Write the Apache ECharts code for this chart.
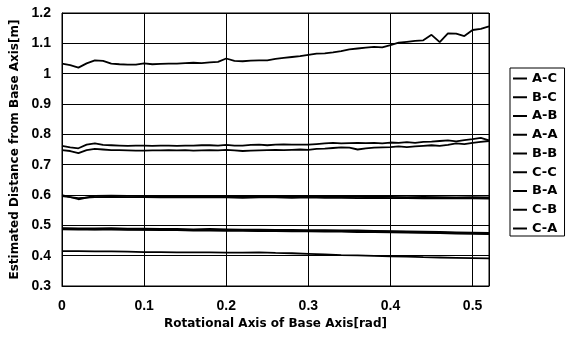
<!DOCTYPE html>
<html>
<head>
<meta charset="utf-8">
<script src="https://cdn.jsdelivr.net/npm/echarts@6/dist/echarts.min.js"></script>
<style>html,body{margin:0;padding:0;background:#fff;}#c{width:571px;height:337px;}</style>
</head>
<body>
<div id="c"></div>
<script>
const names = ['A-C','B-C','A-B','A-A','B-B','C-C','B-A','C-B','C-A'];
const xFine = [0,0.01,0.02,0.03,0.04,0.05,0.06,0.07,0.08,0.09,0.10,0.11,0.12,0.13,0.14,0.15,0.16,0.17,0.18,0.19,0.20,0.21,0.22,0.23,0.24,0.25,0.26,0.27,0.28,0.29,0.30,0.31,0.32,0.33,0.34,0.35,0.36,0.37,0.38,0.39,0.40,0.41,0.42,0.43,0.44,0.45,0.46,0.47,0.48,0.49,0.50,0.51,0.52];
const xCoarse = [0,0.02,0.04,0.06,0.08,0.10,0.12,0.14,0.16,0.18,0.20,0.22,0.24,0.26,0.28,0.30,0.32,0.34,0.36,0.38,0.40,0.42,0.44,0.46,0.48,0.50,0.52];
const sAC = [1.033,1.028,1.020,1.034,1.044,1.042,1.033,1.031,1.030,1.030,1.034,1.031,1.032,1.033,1.033,1.035,1.036,1.035,1.037,1.039,1.050,1.042,1.041,1.043,1.044,1.044,1.049,1.052,1.055,1.058,1.062,1.066,1.067,1.070,1.074,1.080,1.083,1.086,1.088,1.087,1.094,1.102,1.105,1.108,1.110,1.128,1.104,1.133,1.132,1.124,1.144,1.148,1.156];
const sBC = [0.762,0.757,0.754,0.766,0.770,0.765,0.764,0.763,0.762,0.763,0.763,0.762,0.763,0.763,0.762,0.763,0.763,0.764,0.764,0.763,0.765,0.763,0.763,0.765,0.766,0.764,0.766,0.767,0.766,0.766,0.766,0.768,0.770,0.772,0.770,0.771,0.772,0.771,0.772,0.770,0.773,0.772,0.774,0.772,0.775,0.776,0.778,0.780,0.777,0.781,0.784,0.788,0.780];
const sAB = [0.748,0.745,0.738,0.748,0.752,0.750,0.748,0.748,0.747,0.746,0.746,0.747,0.747,0.748,0.747,0.748,0.746,0.747,0.748,0.747,0.749,0.747,0.745,0.746,0.747,0.748,0.749,0.748,0.749,0.750,0.749,0.752,0.753,0.755,0.757,0.756,0.750,0.754,0.756,0.757,0.758,0.760,0.758,0.760,0.762,0.764,0.762,0.765,0.770,0.768,0.772,0.775,0.778];
const sAA = [0.600,0.586,0.597,0.598,0.597,0.596,0.597,0.595,0.596,0.596,0.595,0.595,0.596,0.595,0.596,0.595,0.595,0.594,0.594,0.595,0.594,0.593,0.594,0.593,0.592,0.593,0.592];
const sBB = [0.596,0.590,0.593,0.594,0.593,0.593,0.592,0.592,0.593,0.592,0.592,0.591,0.592,0.592,0.591,0.592,0.591,0.591,0.590,0.591,0.590,0.590,0.589,0.590,0.589,0.589,0.588];
const sCC = [0.491,0.490,0.490,0.491,0.489,0.489,0.488,0.488,0.487,0.488,0.487,0.486,0.486,0.485,0.485,0.484,0.484,0.483,0.483,0.482,0.481,0.480,0.479,0.478,0.477,0.476,0.475];
const sBA = [0.489,0.488,0.487,0.488,0.487,0.486,0.486,0.485,0.485,0.485,0.484,0.484,0.483,0.483,0.482,0.482,0.481,0.481,0.480,0.480,0.479,0.478,0.477,0.476,0.475,0.474,0.473];
const sCB = [0.487,0.486,0.486,0.486,0.485,0.485,0.484,0.484,0.483,0.483,0.482,0.482,0.481,0.481,0.480,0.480,0.479,0.479,0.478,0.478,0.477,0.476,0.475,0.474,0.473,0.472,0.471];
const sCA = [0.415,0.415,0.414,0.414,0.413,0.412,0.412,0.411,0.411,0.411,0.410,0.410,0.411,0.409,0.408,0.406,0.404,0.402,0.401,0.399,0.398,0.397,0.395,0.394,0.393,0.392,0.391];

const seriesData = [
  [xFine, sAC], [xFine, sBC], [xFine, sAB],
  [xCoarse, sAA], [xCoarse, sBB], [xCoarse, sCC],
  [xCoarse, sBA], [xCoarse, sCB], [xCoarse, sCA]
];
const font = '"Liberation Sans", Arial, sans-serif';
const wide = '"DejaVu Sans", sans-serif';
const chart = echarts.init(document.getElementById('c'), null, {renderer: 'canvas'});
chart.setOption({
  animation: false,
  backgroundColor: '#fff',
  grid: {left: 62, top: 13, right: 82, bottom: 51, show: true, borderColor: '#000', borderWidth: 1},
  xAxis: {
    type: 'value', min: 0, max: 0.52, interval: 0.1,
    name: 'Rotational Axis of Base Axis[rad]', nameLocation: 'middle', nameGap: 32,
    nameTextStyle: {fontFamily: wide, fontWeight: 'bold', fontSize: 12, color: '#000'},
    axisLine: {lineStyle: {color: '#000', width: 1}},
    axisTick: {show: false},
    axisLabel: {showMaxLabel: false, margin: 13, fontFamily: font, fontWeight: 'bold', fontSize: 14, color: '#000'},
    splitLine: {show: true, lineStyle: {color: '#000', width: 1}}
  },
  yAxis: {
    type: 'value', min: 0.3, max: 1.2, interval: 0.1,
    name: 'Estimated Distance from Base Axis[m]', nameLocation: 'middle', nameGap: 31,
    nameTextStyle: {fontFamily: wide, fontWeight: 'bold', fontSize: 12, color: '#000'},
    axisLine: {lineStyle: {color: '#000', width: 1}},
    axisTick: {show: false},
    axisLabel: {margin: 11, fontFamily: font, fontWeight: 'bold', fontSize: 14, color: '#000',
      formatter: v => String(Math.round(v * 10) / 10)},
    splitLine: {show: true, lineStyle: {color: '#000', width: 1}}
  },
  legend: {
    orient: 'vertical', left: 510, top: 68,
    data: names,
    icon: 'rect',
    itemWidth: 14, itemHeight: 2, itemGap: 5.75,
    padding: [4, 7, 1, 3],
    borderColor: '#000', borderWidth: 1,
    itemStyle: {color: '#000'},
    textStyle: {fontFamily: wide, fontWeight: 'bold', fontSize: 13, lineHeight: 12, color: '#000'}
  },
  series: seriesData.map((d, i) => ({
    name: names[i], type: 'line', symbol: 'none',
    data: d[0].map((x, j) => [x, d[1][j]]),
    lineStyle: {color: '#000', width: 1.8},
    itemStyle: {color: '#000'}
  }))
});
</script>
</body>
</html>
